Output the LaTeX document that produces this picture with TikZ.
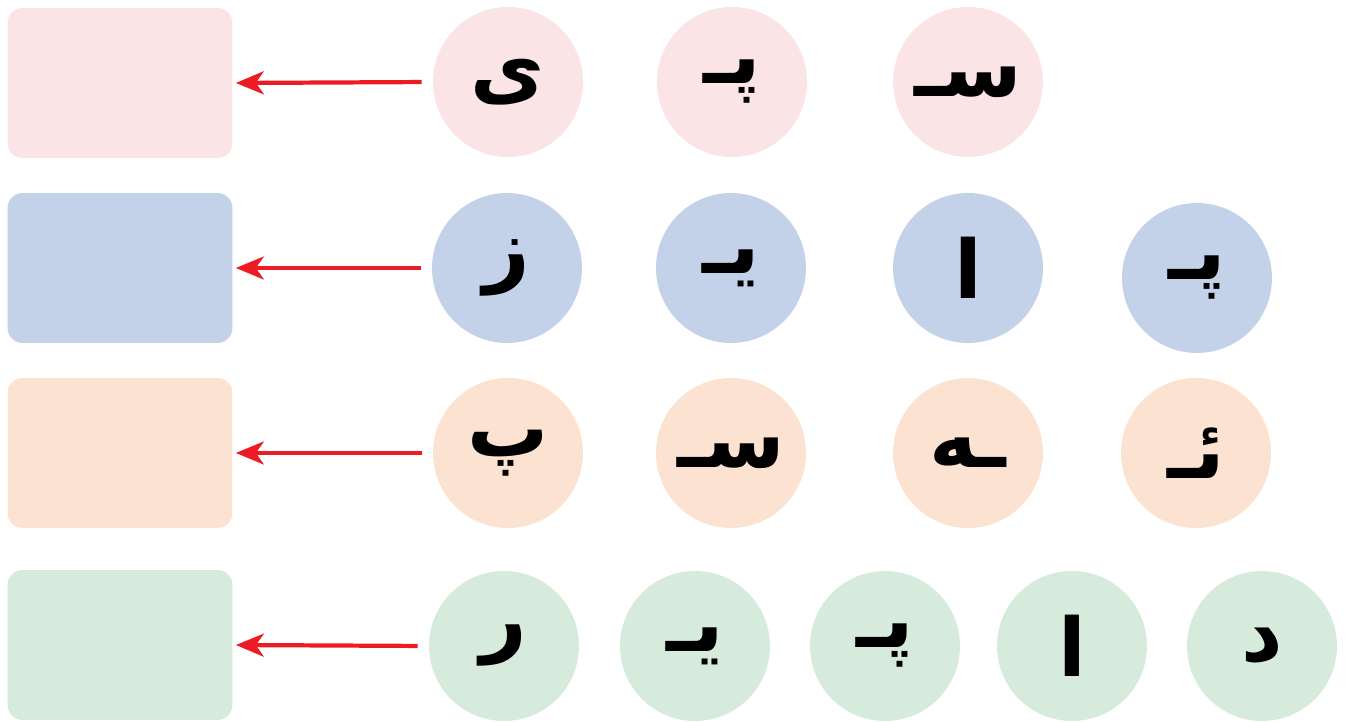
\documentclass[tikz,border=0pt]{standalone}
\usepackage{fontspec}
\usetikzlibrary{arrows.meta}
\newfontfamily\arabicfont[Script=Arabic]{DejaVu Sans}
\TeXXeTstate=1
\definecolor{cardpink}{RGB}{250,228,230}
\definecolor{cardblue}{RGB}{196,210,233}
\definecolor{cardpeach}{RGB}{252,226,208}
\definecolor{cardgreen}{RGB}{214,235,220}
\definecolor{arrowred}{RGB}{237,28,36}
\newcommand{\harf}[1]{\beginR #1\endR}

\begin{document}
\begin{tikzpicture}[x=0.02cm,y=-0.02cm,card/.style={rounded corners=3mm,minimum width=4.5cm,minimum height=3cm,inner sep=0pt},letter/.style={circle,minimum size=3cm,inner sep=0pt,font=\arabicfont\bfseries\fontsize{46}{46}\selectfont},arr/.style={-{Stealth[length=5.6mm,width=4.6mm,inset=1.6mm]},line width=2.4pt,draw=arrowred,shorten <=2.2mm,shorten >=0.6mm}]
\useasboundingbox (0,0) rectangle (1347,722);
\foreach \r/\y/\c in {1/83/cardpink,2/268/cardblue,3/453/cardpeach,4/645/cardgreen}{\node[card,fill=\c] (B\r) at (120,\y) {};}
% row 1
\node[letter,fill=cardpink] (P1) at (508,82) {\harf{ی}};
\node[letter,fill=cardpink] (P2) at (732,82) {\harf{پـ}};
\node[letter,fill=cardpink] (P3) at (968,82) {\harf{سـ}};
% row 2
\node[letter,fill=cardblue] (Q1) at (507,268) {\harf{ز}};
\node[letter,fill=cardblue] (Q2) at (731,268) {\harf{یـ}};
\node[letter,fill=cardblue] (Q3) at (968,268) {\harf{ا}};
\node[letter,fill=cardblue] (Q4) at (1197,278) {\harf{پـ}};
% row 3
\node[letter,fill=cardpeach] (R1) at (508,453) {\harf{پ}};
\node[letter,fill=cardpeach] (R2) at (731,453) {\harf{سـ}};
\node[letter,fill=cardpeach] (R3) at (968,453) {\harf{ـه}};
\node[letter,fill=cardpeach] (R4) at (1196,453) {\harf{ئـ}};
% row 4
\node[letter,fill=cardgreen] (S1) at (504,646) {\harf{ر}};
\node[letter,fill=cardgreen] (S2) at (695,646) {\harf{یـ}};
\node[letter,fill=cardgreen] (S3) at (885,646) {\harf{پـ}};
\node[letter,fill=cardgreen] (S4) at (1072,646) {\harf{ا}};
\node[letter,fill=cardgreen] (S5) at (1262,646) {\harf{د}};
\foreach \a/\b in {P1/B1,Q1/B2,R1/B3,S1/B4}{\draw[arr] (\a.west) -- (\b.east);}
\end{tikzpicture}
\end{document}
